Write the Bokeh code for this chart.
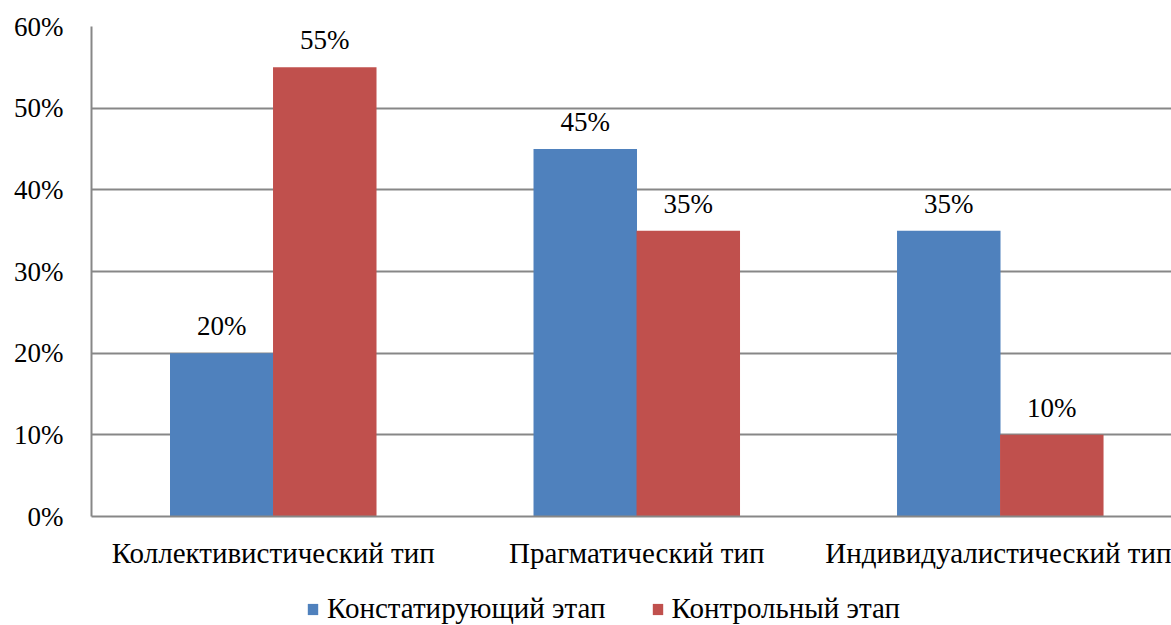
from bokeh.plotting import figure
from bokeh.layouts import column
from bokeh.models import FixedTicker, PrintfTickFormatter, Legend, LegendItem, ColumnDataSource
from bokeh.transform import dodge
from bokeh.core.properties import value
from bokeh.embed import file_html
from bokeh.resources import INLINE

categories = ["Коллективистический тип", "Прагматический тип", "Индивидуалистический тип"]
series_names = ["Констатирующий этап", "Контрольный этап"]
konstat = [20, 45, 35]
kontrol = [55, 35, 10]
y_ticks = [0, 10, 20, 30, 40, 50, 60]

BLUE = "#4F81BD"
RED = "#C0504D"
GRID = "#878787"
FONT = "Liberation Serif"
FS = "29px"
FS_TICK = "27px"

centers = [i + 0.5 for i in range(len(categories))]
src = ColumnDataSource(dict(
    x=centers,
    a=konstat,
    b=kontrol,
    a_lbl=[f"{v}%" for v in konstat],
    b_lbl=[f"{v}%" for v in kontrol],
))

p = figure(frame_width=1080, frame_height=490, output_backend="svg", toolbar_location=None,
           x_range=(0, 2.971), y_range=(0, 60),
           min_border_left=91, min_border_top=26, min_border_right=0,
           min_border_bottom=67)
p.outline_line_color = None
p.background_fill_color = "white"
p.border_fill_color = "white"

off = 0.1417
bw = 0.2847
p.vbar(x=dodge("x", -off, range=p.x_range), top="a", width=bw, source=src,
       fill_color=BLUE, line_color=None)
p.vbar(x=dodge("x", off, range=p.x_range), top="b", width=bw, source=src,
       fill_color=RED, line_color=None)

for col, lbl, dx in (("a", "a_lbl", -off), ("b", "b_lbl", off)):
    p.text(x=dodge("x", dx, range=p.x_range), y=col, text=lbl, source=src,
           text_align="center", text_baseline="middle", y_offset=-27,
           text_font=value(FONT), text_font_size=FS_TICK, text_color="black")

# y axis
p.yaxis.ticker = FixedTicker(ticks=y_ticks)
p.yaxis.formatter = PrintfTickFormatter(format="%d%%")
p.yaxis.major_label_text_font = FONT
p.yaxis.major_label_text_font_size = FS_TICK
p.yaxis.major_label_text_color = "black"
p.yaxis.major_tick_out = 0
p.yaxis.major_tick_in = 0
p.yaxis.minor_tick_out = 0
p.yaxis.minor_tick_in = 0
p.yaxis.axis_line_color = GRID
p.yaxis.axis_line_width = 2
p.yaxis.major_label_standoff = 28

# x axis
p.xaxis.ticker = FixedTicker(ticks=centers)
p.xaxis.major_label_overrides = {c: name for c, name in zip(centers, categories)}
p.xaxis.major_label_text_font = FONT
p.xaxis.major_label_text_font_size = FS
p.xaxis.major_label_text_color = "black"
p.xaxis.major_tick_out = 0
p.xaxis.major_tick_in = 0
p.xaxis.minor_tick_out = 0
p.xaxis.minor_tick_in = 0
p.xaxis.axis_line_color = GRID
p.xaxis.axis_line_width = 2
p.xaxis.major_label_standoff = 20

p.xgrid.grid_line_color = None
p.ygrid.grid_line_color = GRID
p.ygrid.grid_line_width = 2
p.ygrid.ticker = FixedTicker(ticks=y_ticks)

# legend strip under the chart (its swatch glyphs sit outside the visible range)
leg = figure(width=1171, height=42, output_backend="svg", toolbar_location=None,
             x_axis_type=None, y_axis_type=None, x_range=(0, 1), y_range=(0, 1),
             min_border=0)
leg.outline_line_color = None
leg.grid.visible = False
swatch = ColumnDataSource(dict(x=[5], top=[5]))
k1 = leg.vbar(x="x", top="top", width=0.1, source=swatch, fill_color=BLUE, line_color=None)
k2 = leg.vbar(x="x", top="top", width=0.1, source=swatch, fill_color=RED, line_color=None)
legend = Legend(items=[LegendItem(label=series_names[0], renderers=[k1]),
                       LegendItem(label=series_names[1], renderers=[k2])],
                orientation="horizontal", location=(215, 0),
                label_text_font=FONT, label_text_font_size=FS, label_text_color="black",
                glyph_width=13, glyph_height=14, spacing=45,
                label_standoff=8, border_line_color=None,
                background_fill_alpha=0, padding=0, margin=0)
leg.add_layout(legend, "center")

layout = column(p, leg, spacing=0)
open("out.html", "w").write(file_html(layout, INLINE))
